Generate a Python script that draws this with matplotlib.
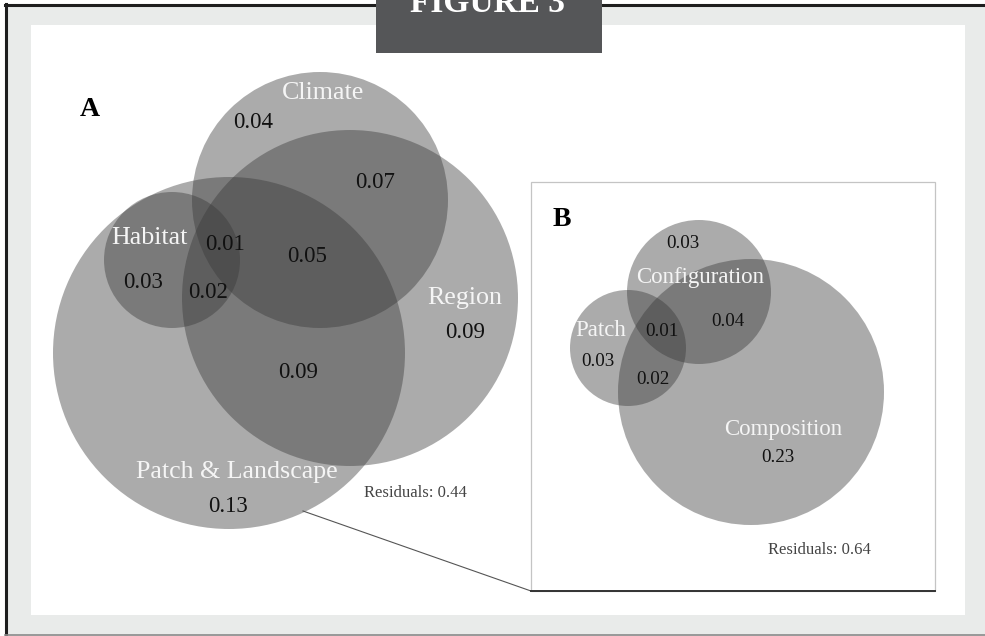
import matplotlib
matplotlib.use("Agg")
import matplotlib.pyplot as plt
from matplotlib.patches import Circle, Rectangle
from matplotlib.lines import Line2D

# ---- values -------------------------------------------------------------
# Panel A: variance partitioning among four groups of predictors
a_sets = ["Climate", "Region", "Habitat", "Patch & Landscape"]
a_fraction_values = [0.04, 0.07, 0.05, 0.01, 0.03, 0.02, 0.09, 0.09, 0.13]
a_residual = 0.44

# Panel B: breakdown of the patch & landscape group
b_sets = ["Configuration", "Patch", "Composition"]
b_fraction_values = [0.03, 0.04, 0.01, 0.03, 0.02, 0.23]
b_residual = 0.64

# ---- layout (pixel space) ----------------------------------------------
W, H = 985, 636
SERIF = ["Liberation Serif", "DejaVu Serif"]

a_circles = {  # centre x, centre y, radius
    "Climate": (320, 200, 128),
    "Region": (350, 298, 168),
    "Habitat": (172, 260, 68),
    "Patch & Landscape": (229, 353, 176),
}
a_set_label_pos = {
    "Climate": (323, 93),
    "Region": (465, 298),
    "Habitat": (150, 238),
    "Patch & Landscape": (237, 472),
}
a_fraction_pos = [(253, 122), (375, 182), (307, 257), (225, 244), (143, 282),
                  (208, 292), (465, 333), (298, 373), (228, 507)]

b_circles = {
    "Configuration": (699, 292, 72),
    "Patch": (628, 348, 58),
    "Composition": (751, 392, 133),
}
b_set_label_pos = {
    "Configuration": (700, 278),
    "Patch": (601, 330),
    "Composition": (783, 429),
}
b_fraction_pos = [(683, 243), (728, 322), (662, 332), (598, 362), (653, 379), (778, 457)]

FILL = "#383838"
ALPHA = 0.42

fig = plt.figure(figsize=(W / 100, H / 100), dpi=100, facecolor="white")
ax = fig.add_axes([0, 0, 1, 1])
ax.set_xlim(0, W)
ax.set_ylim(H, 0)
ax.set_aspect("equal")
ax.axis("off")

# ---- frame --------------------------------------------------------------
ax.add_patch(Rectangle((5, 4), W - 5, H - 4, facecolor="#e9ebea", edgecolor="none", zorder=0))
ax.add_line(Line2D([5, W], [4.5, 4.5], color="#1e1e1e", lw=2.2, zorder=1))
ax.add_line(Line2D([5.5, 5.5], [4, H], color="#1e1e1e", lw=2.2, zorder=1))
ax.add_line(Line2D([5, W], [635, 635], color="#8a8a8a", lw=1.2, zorder=1))
ax.add_patch(Rectangle((31, 25), 934, 590, facecolor="white", edgecolor="none", zorder=1))

# title tab (its heading runs off the top edge)
ax.add_patch(Rectangle((376, 0), 226, 53, facecolor="#555658", edgecolor="none", zorder=2))
ax.text(487, 11.5, "FIGURE 3", color="white", fontsize=24, fontweight="bold",
        family=SERIF, ha="center", va="baseline", zorder=3, clip_on=True)

# ---- panel A -----------------------------------------------------------
for name in a_sets:
    cx, cy, r = a_circles[name]
    ax.add_patch(Circle((cx, cy), r, facecolor=FILL, edgecolor="none", alpha=ALPHA, zorder=3))
for name in a_sets:
    x, y = a_set_label_pos[name]
    ax.text(x, y, name, color="#f5f5f5", fontsize=18.7, family=SERIF,
            ha="center", va="center", zorder=5)
for v, (x, y) in zip(a_fraction_values, a_fraction_pos):
    ax.text(x, y, f"{v:.2f}", color="#111111", fontsize=16.5, family=SERIF,
            ha="center", va="center", zorder=5)
ax.text(415, 493, f"Residuals: {a_residual:.2f}", color="#444444", fontsize=12,
        family=SERIF, ha="center", va="center", zorder=5)
ax.text(90, 110, "A", color="black", fontsize=20, fontweight="bold", family=SERIF,
        ha="center", va="center", zorder=5)

# ---- inset box and connector ------------------------------------------
ax.add_line(Line2D([303, 531], [511, 591], color="#555555", lw=0.8, zorder=4))
ax.add_patch(Rectangle((531, 182), 404, 409, facecolor="white", edgecolor="#c4c4c4",
                       lw=0.9, zorder=2))
ax.add_line(Line2D([531, 935], [591, 591], color="#333333", lw=1.4, zorder=4))

# ---- panel B -----------------------------------------------------------
for name in b_sets:
    cx, cy, r = b_circles[name]
    ax.add_patch(Circle((cx, cy), r, facecolor=FILL, edgecolor="none", alpha=ALPHA, zorder=3))
for name in b_sets:
    x, y = b_set_label_pos[name]
    ax.text(x, y, name, color="#f5f5f5", fontsize=16.5, family=SERIF,
            ha="center", va="center", zorder=5)
for v, (x, y) in zip(b_fraction_values, b_fraction_pos):
    ax.text(x, y, f"{v:.2f}", color="#111111", fontsize=13.7, family=SERIF,
            ha="center", va="center", zorder=5)
ax.text(819, 550, f"Residuals: {b_residual:.2f}", color="#444444", fontsize=12,
        family=SERIF, ha="center", va="center", zorder=5)
ax.text(562, 220, "B", color="black", fontsize=20, fontweight="bold", family=SERIF,
        ha="center", va="center", zorder=5)

fig.savefig("out.png", dpi=100, facecolor="white")
